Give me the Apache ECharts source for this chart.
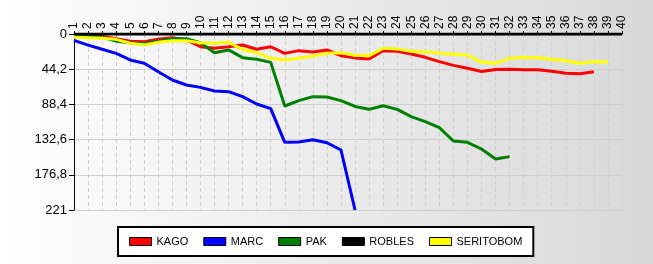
<!DOCTYPE html>
<html><head><meta charset="utf-8">
<script src="https://cdn.jsdelivr.net/npm/echarts@6/dist/echarts.min.js"></script>
<style>html,body{margin:0;padding:0;}#c{width:653px;height:264px;}</style>
</head><body><div id="c"></div>
<script>
const categories = Array.from({length: 40}, (_, i) => String(i + 1));
const yTicks = [0, 44.2, 88.4, 132.6, 176.8, 221];
const kago = [2, 2, 3, 6, 9, 9.6, 6.7, 4.6, 7.5, 16, 18, 16, 13.8, 19.2, 16, 24.3, 20.9, 22.6, 20.1, 27.2, 30, 31.4, 20.9, 21.8, 25.1, 29.3, 34.7, 39.4, 43.1, 47, 44.6, 44.4, 45, 45, 46.9, 49.4, 50, 47.3];
const marc = [8, 14, 19.2, 24.3, 32.6, 36.8, 47.3, 57.8, 64, 67, 71.6, 72.4, 78.7, 87.9, 93.8, 136, 135.6, 132.7, 136.5, 145.7, 221];
const pak = [2, 3, 4, 9, 11, 12, 9, 6, 6, 11, 23.5, 20, 29.7, 31.8, 35.6, 90.4, 83.7, 78.7, 79.1, 83.7, 91, 94.6, 90, 94.6, 103.8, 110, 117.6, 134.4, 136, 144.4, 157, 154];
const robles = Array.from({length: 40}, () => 0);
const seritobom = [4.2, 4.6, 5.4, 6.7, 11.7, 13.8, 10.5, 8.4, 8.4, 10.9, 11.7, 10.5, 19.2, 23.5, 30.5, 32.6, 30.5, 27.6, 24.3, 23.5, 26.6, 27.2, 18, 18.8, 21.8, 22.2, 24.3, 25.5, 26.4, 35.6, 36.8, 30.5, 29.3, 29.7, 31.8, 33.5, 36.8, 34.7, 35.2];
const seriesNames = ['KAGO', 'MARC', 'PAK', 'ROBLES', 'SERITOBOM'];
const seriesData = [kago, marc, pak, robles, seritobom];
const seriesColors = ['#ff0000', '#0000ff', '#008000', '#000000', '#ffff00'];

const chart = echarts.init(document.getElementById('c'));
chart.setOption({
  animation: false,
  backgroundColor: new echarts.graphic.LinearGradient(0, 0, 1, 0, [
    {offset: 0, color: '#ffffff'}, {offset: 1, color: '#d8d8d8'}
  ]),
  textStyle: {fontFamily: 'Liberation Sans, Arial, sans-serif'},
  grid: {left: 74, right: 31, top: 34, bottom: 54, containLabel: false},
  legend: {
    data: seriesNames,
    left: 118, top: 227,
    padding: [9, 11, 9, 11],
    itemGap: 15, itemWidth: 22, itemHeight: 8,
    icon: 'rect',
    backgroundColor: '#ffffff',
    borderColor: '#000000', borderWidth: 2, borderRadius: 0,
    itemStyle: {borderColor: '#000000', borderWidth: 1},
    textStyle: {fontSize: 11, color: '#000000'}
  },
  xAxis: {
    type: 'category', position: 'top', boundaryGap: false,
    data: categories,
    axisLine: {show: true, lineStyle: {color: '#000', width: 1}},
    axisTick: {show: true, inside: false, length: 3, lineStyle: {color: '#000'}, alignWithLabel: true},
    axisLabel: {rotate: 90, fontSize: 12, color: '#000', margin: 5, interval: 0},
    splitLine: {show: true, interval: 0, lineStyle: {color: '#cfcfcf', type: [4, 3], width: 1}}
  },
  yAxis: {
    type: 'value', inverse: true, min: 0, max: 221, interval: 44.2,
    axisLine: {show: true, lineStyle: {color: '#000', width: 1}},
    axisTick: {show: true, length: 5, lineStyle: {color: '#000'}},
    axisLabel: {fontSize: 13, color: '#000', margin: 7,
      formatter: v => String(+v.toFixed(1)).replace('.', ',')},
    splitLine: {show: true, lineStyle: {color: '#cfcfcf', width: 1}}
  },
  series: seriesNames.map((n, i) => ({
    name: n, type: 'line', data: seriesData[i],
    showSymbol: false, symbol: 'none',
    lineStyle: {color: seriesColors[i], width: 3},
    itemStyle: {color: seriesColors[i]}
  }))
});
</script></body></html>
